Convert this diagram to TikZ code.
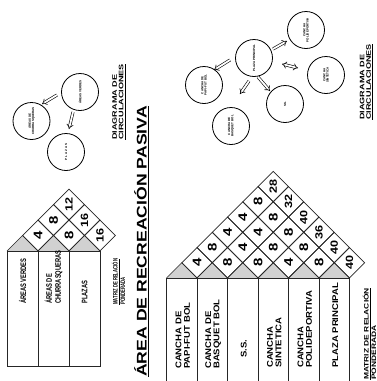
\documentclass[tikz,border=0pt]{standalone}
\usepackage{fontspec}
\setmainfont{Liberation Sans}
\newfontfamily\rfont[FakeStretch=1.15]{Liberation Sans}
\newfontfamily\lfont[FakeStretch=0.72]{Liberation Sans}
\newfontfamily\tfont[FakeStretch=1.26]{Liberation Sans}
\newfontfamily\wfont[FakeStretch=1.4]{Liberation Sans}
\newfontfamily\nfont[FakeStretch=0.65]{Liberation Sans}
\newfontfamily\mfont[FakeStretch=1.3]{Liberation Sans}
\newfontfamily\dfont[FakeStretch=1.2]{Liberation Sans}
\usetikzlibrary{arrows.meta,shapes.geometric}
\newcommand\digit[1]{\ifnum#1>9 {\fontsize{10.5}{10.5}\selectfont #1}\else{\fontsize{12.5}{12.5}\selectfont #1}\fi}
\begin{document}
\begin{tikzpicture}[x=1pt,y=-1pt,
  ln/.style={line width=0.7pt, draw=black!85},
  roof/.style={fill=black!18},
  dia/.style={diamond, draw=black!85, line width=0.7pt, minimum width=#1, minimum height=#1, inner sep=0pt, rotate=90, font=\dfont\bfseries},
  rcol/.style={rotate=90, anchor=west, align=left, inner sep=0pt, font=\rfont\bfseries\fontsize{8.3}{8.3}\selectfont},
  lcol/.style={rotate=90, anchor=west, align=left, inner sep=0pt, font=\lfont\bfseries\fontsize{8}{9}\selectfont},
  circ/.style={circle, draw=black, line width=0.8pt, minimum size=37pt, inner sep=0pt, rotate=90, align=center, font=\bfseries\fontsize{3}{3.4}\selectfont},
  hollow/.style={double=white, draw=black, line width=0.6pt, double distance=1.8pt, -{Implies}},
  hollow2/.style={double=white, draw=black, line width=0.6pt, double distance=1.8pt, {Implies}-{Implies}}]
\useasboundingbox (0,0) rectangle (377,381);

% ---------------- left matrix ----------------
\def\LX{7}\def\LW{31}\def\LB{251}\def\LBot{366}
\foreach \i/\t in {1/{ÁREAS VERDES},2/{ÁREAS DE\\CHURRASQUERAS},3/{PLAZAS}}{
  \pgfmathsetmacro\L{\LX+(\i-1)*\LW}
  \pgfmathsetmacro\R{\L+\LW}
  \pgfmathsetmacro\C{\L+\LW/2}
  \pgfmathsetmacro\T{\LB-\LW/2}
  \fill[roof] (\L,\LB) -- (\C,\T) -- (\R,\LB) -- cycle;
  \draw[ln] (\L,\LB) -- (\C,\T) -- (\R,\LB);
  \draw[ln] (\L,\LB) rectangle (\R,\LBot);
  \node[lcol] (lcol\i) at (\C,304) {\t};
}
\foreach \k/\i/\v in {1/1/4,1/2/8,1/3/16,2/1/8,2/2/16,3/1/12}{
  \pgfmathsetmacro\cx{\LX+\i*\LW+(\k-1)*\LW/2}
  \pgfmathsetmacro\cy{\LB-\LW/2-(\k-1)*\LW/2}
  \node[dia=31pt] (ld\k\i) at (\cx,\cy) {\digit{\v}};
}

% ---------------- right matrix ----------------
\def\RX{166.5}\def\RW{30.5}\def\RB{278}\def\RBot{382}
\foreach \i/\t/\s in {1/{CANCHA DE\\PAPI-FUT BOL}/369,2/{CANCHA DE\\BASQUET BOL}/369,3/{S.S.}/358,4/{CANCHA\\SINTETICA}/368,5/{CANCHA\\POLIDEPORTIVA}/368,6/{PLAZA PRINCIPAL}/368}{
  \pgfmathsetmacro\L{\RX+(\i-1)*\RW}
  \pgfmathsetmacro\R{\L+\RW}
  \pgfmathsetmacro\C{\L+\RW/2}
  \pgfmathsetmacro\T{\RB-\RW/2}
  \fill[roof] (\L,\RB) -- (\C,\T) -- (\R,\RB) -- cycle;
  \draw[ln] (\L,\RB) -- (\C,\T) -- (\R,\RB);
  \draw[ln] (\L,\RBot) -- (\L,\RB) -- (\R,\RB) -- (\R,\RBot);
  \node[rcol] (rcol\i) at (\C+1,\s) {\t};
}
\foreach \k/\i/\v in {1/1/4,1/2/8,1/3/8,1/4/4,1/5/8,1/6/40,
                      2/1/8,2/2/4,2/3/8,2/4/8,2/5/40,
                      3/1/4,3/2/4,3/3/8,3/4/36,
                      4/1/4,4/2/8,4/3/40,
                      5/1/8,5/2/32,
                      6/1/28}{
  \pgfmathsetmacro\cx{\RX+\i*\RW+(\k-1)*\RW/2}
  \pgfmathsetmacro\cy{\RB-\RW/2-(\k-1)*\RW/2}
  \node[dia=30.5pt] (rd\k\i) at (\cx,\cy) {\digit{\v}};
}

% ---------------- titles and labels ----------------
\node[rotate=90, anchor=base west, inner sep=0pt, font=\tfont\bfseries\fontsize{14}{14}\selectfont] (title) at (146.5,377) {ÁREA DE RECREACIÓN PASIVA};
\draw[line width=1.1pt] ([xshift=2pt]title.base west) -- ([xshift=2pt]title.base east);

\node[rotate=90, anchor=west, align=left, inner sep=0pt, font=\nfont\bfseries\fontsize{6.5}{6.5}\selectfont] (lmat) at (118.5,305) {\underline{MATRIZ DE RELACIÓN}\\PONDERADA};
\node[rotate=90, anchor=west, align=left, inner sep=0pt, font=\mfont\bfseries\fontsize{6.5}{6.5}\selectfont] (rmat) at (369.5,380) {\underline{MATRIZ DE RELACIÓN}\\PONDERADA};

\node[rotate=90, anchor=west, align=left, inner sep=0pt, font=\wfont\bfseries\fontsize{6.5}{6.5}\selectfont] (ldia) at (119,140) {DIAGRAMA DE\\\underline{CIRCULACIONES}};
\node[rotate=90, anchor=west, align=left, inner sep=0pt, font=\wfont\bfseries\fontsize{6.5}{6.5}\selectfont] (rdia) at (366.5,120) {DIAGRAMA DE\\\underline{CIRCULACIONES}};

% ---------------- left circulation diagram ----------------
\node[circ] (ca) at (80,92) {ÁREAS VERDES};
\node[circ] (cb) at (31.5,121) {ÁREAS DE\\CHURRASQUERAS};
\node[circ] (cc) at (66,152) {P L A Z A S};
\coordinate (a1s) at (57,95);
\coordinate (a1e) at (42,104);
\coordinate (a2s) at (73,112);
\coordinate (a2e) at (69,129);
\draw[hollow] (a1s) -- (a1e);
\draw[hollow] (a2s) -- (a2e);

% ---------------- right circulation diagram ----------------
\node[circ] (r1) at (254,58) {PLAZA PRINCIPAL};
\node[circ] (r2) at (306,30) {CANCHA\\POLIDEPORTIVA};
\node[circ] (r3) at (326,75) {CANCHA\\SINTETICA};
\node[circ] (r4) at (285,104) {S.S.};
\node[circ] (r5) at (204,85) {CANCHA DE\\PAPI-FUT BOL};
\node[circ] (r6) at (231,126) {CANCHA DE\\BASQUET BOL};
\coordinate (b1s) at (273,49);
\coordinate (b1e) at (287,41);
\coordinate (b2s) at (282,64);
\coordinate (b2e) at (298,68);
\coordinate (b3s) at (258,77);
\coordinate (b3e) at (270,91);
\coordinate (b4s) at (230,60);
\coordinate (b4e) at (214,70);
\coordinate (b5s) at (249,81);
\coordinate (b5e) at (240,94);
\draw[hollow] (b1s) -- (b1e);
\draw[hollow2] (b2s) -- (b2e);
\draw[hollow] (b3s) -- (b3e);
\draw[hollow] (b4s) -- (b4e);
\draw[hollow] (b5s) -- (b5e);
\end{tikzpicture}
\end{document}
